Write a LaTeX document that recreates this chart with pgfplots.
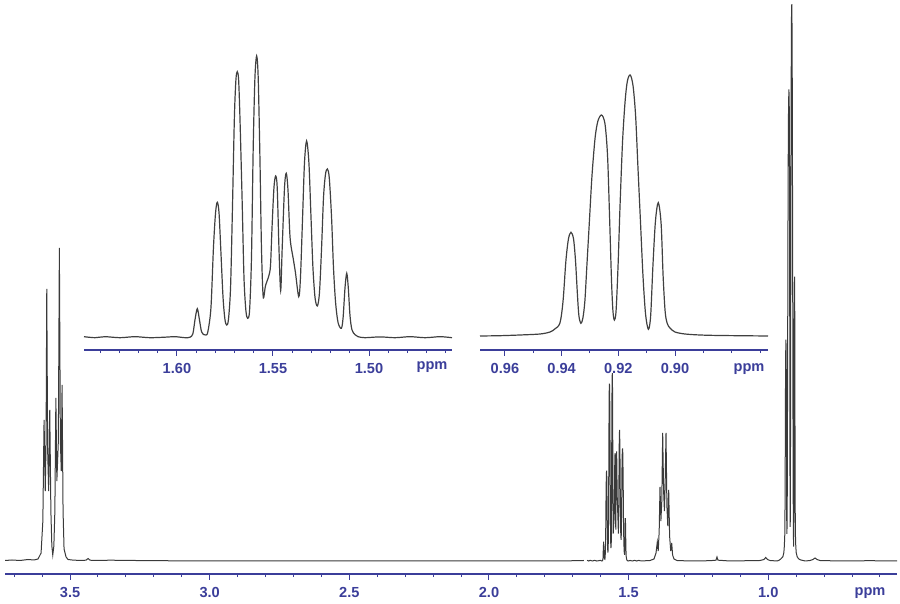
\documentclass[border=0pt]{standalone}
\usepackage{fontspec}
\setmainfont{Liberation Sans}
\usepackage{pgfplots}
\usepackage{pgfplotstable}
\pgfplotsset{compat=1.18}
\definecolor{nmrblue}{HTML}{3B3E9A}
\definecolor{trace}{HTML}{3A3A3A}

% main spectrum, baseline pieces (ppm, intensity)
\pgfplotstableread{
ppm h
3.7327 0.5
3.7077 1
3.6790 0.5
3.6504 1.5
3.6289 1
3.6146 2
3.6038 8
3.5974 40
3.5931 141
3.5888 70
3.5859 120
3.5834 272
3.5802 110
3.5766 70
3.5727 151
3.5687 50
3.5652 15
3.5619 6
3.5580 15
3.5544 50
3.5508 163
3.5473 80
3.5419 120
3.5383 313
3.5347 120
3.5315 90
3.5286 176
3.5251 50
3.5215 12
3.5143 4
3.5072 1.5
3.4928 1
3.4642 0.5
3.4427 0.8
3.4356 2.5
3.4284 0.8
3.4105 0.5
3.3568 0.8
3.2673 0.5
3.0346 0
2.6765 0
2.3185 0
1.9604 0
1.7456 0
1.6600 0.5
}\segA

\pgfplotstableread{
ppm h
1.4560 0
1.4234 0.5
1.4091 2
1.4019 8
1.3973 19
1.3940 10
1.3905 30
1.3876 74
1.3844 40
1.3812 60
1.3780 128
1.3747 70
1.3718 50
1.3693 75
1.3661 128
1.3629 55
1.3597 35
1.3565 71
1.3532 25
1.3493 10
1.3457 18
1.3425 6
1.3375 2
1.3268 0.5
1.2802 0
1.2086 0.3
1.1871 0.8
1.1836 4
1.1800 0.8
1.1370 0
1.0296 0.5
1.0153 1.5
1.0092 3.5
1.0027 1.5
0.9937 0.5
0.9690 0
}\segB

\pgfplotstableread{
ppm h
0.8672 0
0.8505 0.5
0.8398 1.5
0.8326 3
0.8255 1.5
0.8147 0.5
0.7431 0
0.6357 0.3
0.5390 0
}\segC

% expanded multiplet near 1.55 ppm
\pgfplotstableread{
ppm h
1.6484 1
1.6427 0
1.6375 1
1.6297 0
1.6219 1
1.6141 0
1.6063 0.5
1.6010 1
1.5958 0
1.5932 0.5
1.5917 4
1.5906 18
1.5894 29
1.5883 18
1.5872 6
1.5859 3
1.5849 2.7
1.5839 6
1.5823 30
1.5810 90
1.5799 125
1.5790 135.4
1.5781 125
1.5771 85
1.5760 40
1.5750 18
1.5741 12.7
1.5732 18
1.5721 50
1.5711 130
1.5701 220
1.5693 258
1.5686 266
1.5679 258
1.5672 220
1.5661 140
1.5651 60
1.5641 27
1.5632 19.4
1.5622 27
1.5612 80
1.5603 190
1.5594 260
1.5585 281.7
1.5577 260
1.5568 180
1.5560 90
1.5551 41
1.5539 52
1.5522 61.7
1.5513 72
1.5505 110
1.5495 150
1.5486 161.7
1.5478 150
1.5469 90
1.5460 47
1.5452 90
1.5440 150
1.5431 164.4
1.5422 148
1.5411 100
1.5394 78.4
1.5383 65
1.5366 41
1.5357 60
1.5346 120
1.5336 175
1.5325 196.7
1.5313 175
1.5302 120
1.5292 70
1.5281 40
1.5269 31.7
1.5258 45
1.5247 90
1.5237 140
1.5227 163
1.5217 168.7
1.5207 160
1.5195 120
1.5185 70
1.5174 35
1.5161 15
1.5144 9.4
1.5135 20
1.5125 50
1.5116 64.4
1.5108 50
1.5099 22
1.5089 8
1.5073 3
1.5057 1
1.5021 0
1.4943 0.8
1.4865 0
1.4786 1
1.4708 0
1.4630 1
1.4568 0
}\multA

% expanded multiplet near 0.92 ppm
\pgfplotstableread{
ppm h
0.9688 0
0.9618 0.3
0.9547 1
0.9476 2
0.9441 4
0.9424 7
0.9406 13
0.9395 35
0.9385 75
0.9376 97
0.9367 103.7
0.9358 97
0.9351 75
0.9344 40
0.9339 20
0.9332 12.7
0.9325 18
0.9318 35
0.9311 70
0.9302 115
0.9293 160
0.9282 198
0.9272 215
0.9259 221
0.9247 212
0.9238 180
0.9231 120
0.9224 55
0.9219 25
0.9214 16
0.9208 25
0.9201 70
0.9194 130
0.9185 195
0.9176 235
0.9168 255
0.9158 261
0.9148 250
0.9139 220
0.9131 170
0.9122 115
0.9113 60
0.9104 22
0.9094 6.7
0.9086 20
0.9078 70
0.9069 115
0.9059 133.3
0.9049 112
0.9042 60
0.9035 25
0.9028 13
0.9018 8
0.9000 4
0.8965 2
0.8912 1
0.8841 0.5
0.8672 0
}\multB

\pgfplotsset{
  nmr/.style={
    scale only axis, anchor=south west, clip=false,
    axis x line=bottom, axis y line=none,
    axis line style={-, draw=nmrblue, line width=0.6pt},
    x dir=reverse,
    tick align=outside, major tick length=3pt, minor tick length=1.6pt,
    every tick/.style={nmrblue, line width=0.5pt},
    xticklabel style={font=\fontsize{7.3}{8}\selectfont\bfseries, text=nmrblue},
  },
}

\begin{document}
\begin{tikzpicture}
\useasboundingbox (0,0) rectangle (450pt,302pt);

\begin{axis}[nmr, at={(2.5pt,15pt)}, width=446pt, height=287pt,
  xmin=0.539, xmax=3.733, ymin=-13, ymax=561,
  xtick={1.0,1.5,2.0,2.5,3.0,3.5},
  xticklabels={1.0,1.5,2.0,2.5,3.0,3.5},
  minor xtick={0.6,0.7,0.8,0.9,1.1,1.2,1.3,1.4,1.6,1.7,1.8,1.9,2.1,2.2,2.3,2.4,2.6,2.7,2.8,2.9,3.1,3.2,3.3,3.4,3.6,3.7}]
  \addplot[trace, line width=0.5pt] table[x=ppm,y=h]{\segA};
  \addplot[trace, line width=0.5pt] table[x=ppm,y expr=0.667*\thisrow{h}]{\multA};
  \addplot[trace, line width=0.5pt] table[x=ppm,y=h]{\segB};
  \addplot[trace, line width=0.5pt] table[x=ppm,y expr=2.134*\thisrow{h}]{\multB};
  \addplot[trace, line width=0.5pt] table[x=ppm,y=h]{\segC};
\end{axis}

\begin{axis}[nmr, at={(42pt,127pt)}, width=184pt, height=150pt,
  xmin=1.4568, xmax=1.6484, ymin=-12.3, ymax=287.7,
  xtick={1.50,1.55,1.60}, xticklabels={1.50,1.55,1.60},
  minor xtick={1.46,1.47,1.48,1.49,1.51,1.52,1.53,1.54,1.56,1.57,1.58,1.59,1.61,1.62,1.63,1.64}]
  \addplot[black!75, line width=0.6pt, smooth, tension=0.5] table[x=ppm,y=h]{\multA};
\end{axis}

\begin{axis}[nmr, at={(240pt,127pt)}, width=144pt, height=150pt,
  xmin=0.8672, xmax=0.9688, ymin=-14, ymax=286,
  xtick={0.90,0.92,0.94,0.96}, xticklabels={0.90,0.92,0.94,0.96},
  minor xtick={0.87,0.88,0.89,0.91,0.93,0.95}]
  \addplot[black!75, line width=0.6pt, smooth, tension=0.5] table[x=ppm,y=h]{\multB};
\end{axis}

\node[font=\fontsize{7.3}{8}\selectfont\bfseries, text=nmrblue] at (435pt,5.5pt) {ppm};
\node[font=\fontsize{7.3}{8}\selectfont\bfseries, text=nmrblue] at (216pt,118.5pt) {ppm};
\node[font=\fontsize{7.3}{8}\selectfont\bfseries, text=nmrblue] at (374.5pt,117.5pt) {ppm};
\end{tikzpicture}
\end{document}
